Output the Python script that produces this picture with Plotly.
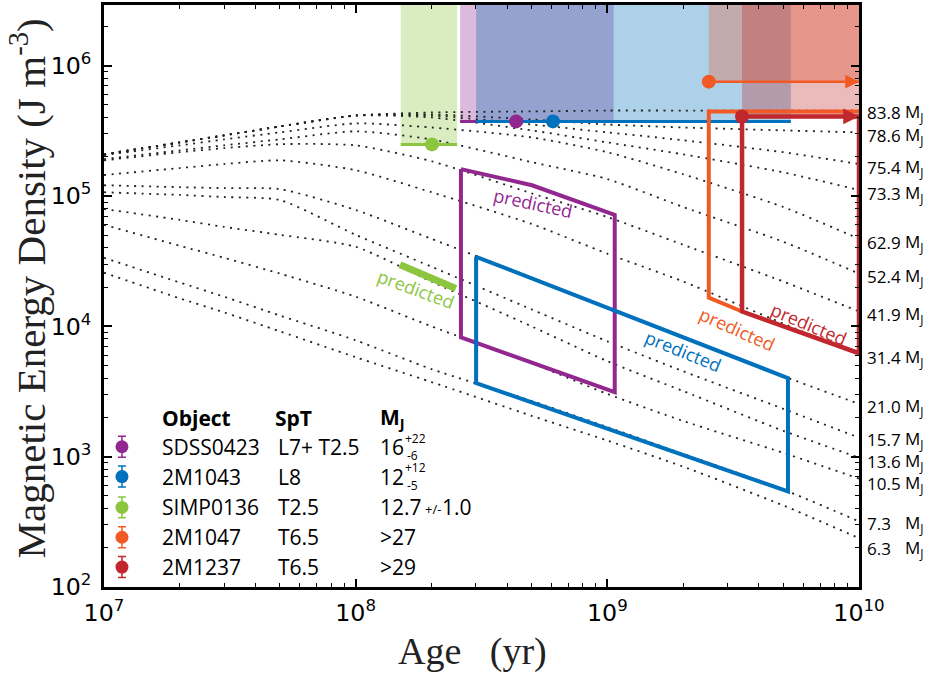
import numpy as np
import plotly.graph_objects as go

# ---------------- data ----------------
ages = [1e7, 2e7, 3e7, 5e7, 1e8, 2e8, 5e8, 1e9, 2e9, 5e9, 1e10]

track_masses = ["83.8", "78.6", "75.4", "73.3", "62.9", "52.4", "41.9",
                "31.4", "21.0", "15.7", "13.6", "10.5", "7.3", "6.3"]

e_83_8 = [2.09e5, 2.58e5, 2.92e5, 3.42e5, 4.15e5, 4.38e5, 4.46e5, 4.53e5, 4.53e5, 4.53e5, 4.53e5]
e_78_6 = [2.09e5, 2.58e5, 2.92e5, 3.42e5, 4.15e5, 4.23e5, 3.87e5, 3.54e5, 3.36e5, 3.19e5, 3.08e5]
e_75_4 = [2.09e5, 2.58e5, 2.92e5, 3.42e5, 4.15e5, 4.15e5, 3.54e5, 3.08e5, 2.68e5, 2.17e5, 1.76e5]
e_73_3 = [2.09e5, 2.58e5, 2.92e5, 3.42e5, 4.15e5, 4.01e5, 3.19e5, 2.58e5, 2.09e5, 1.52e5, 1.11e5]
e_62_9 = [2.06e5, 2.45e5, 2.72e5, 3.08e5, 3.61e5, 3.36e5, 2.82e5, 2.17e5, 1.47e5, 8.24e4, 4.70e4]
e_52_4 = [1.92e5, 2.24e5, 2.45e5, 2.72e5, 3.14e5, 2.72e5, 1.82e5, 1.35e5, 8.24e4, 4.46e4, 2.54e4]
e_41_9 = [1.88e5, 2.17e5, 2.33e5, 2.50e5, 2.45e5, 1.85e5, 1.05e5, 6.91e4, 4.23e4, 2.21e4, 1.30e4]
e_31_4 = [1.45e5, 1.64e5, 1.76e5, 1.88e5, 1.58e5, 1.07e5, 6.11e4, 3.61e4, 2.21e4, 1.05e4, 6.11e3]
e_21_0 = [1.21e5, 1.17e5, 1.15e5, 1.13e5, 7.82e4, 4.70e4, 2.37e4, 1.40e4, 8.24e3, 4.15e3, 2.54e3]
e_15_7 = [1.07e5, 1.02e5, 9.83e4, 9.32e4, 5.04e4, 2.87e4, 1.35e4, 7.68e3, 4.53e3, 2.33e3, 1.40e3]
e_13_6 = [7.96e4, 6.56e4, 5.80e4, 5.04e4, 4.08e4, 2.21e4, 1.00e4, 5.41e3, 3.19e3, 1.58e3, 9.83e2]
e_10_5 = [6.01e4, 4.15e4, 3.36e4, 2.54e4, 1.69e4, 1.00e4, 5.22e3, 3.03e3, 1.88e3, 1.07e3, 6.79e2]
e_7_3 = [3.36e4, 2.17e4, 1.69e4, 1.21e4, 7.82e3, 4.70e3, 2.68e3, 1.69e3, 1.05e3, 5.60e2, 3.19e2]
e_6_3 = [2.58e4, 1.64e4, 1.28e4, 9.16e3, 5.80e3, 3.74e3, 2.06e3, 1.33e3, 8.39e2, 4.23e2, 2.37e2]

tracks = [e_83_8, e_78_6, e_75_4, e_73_3, e_62_9, e_52_4, e_41_9,
          e_31_4, e_21_0, e_15_7, e_13_6, e_10_5, e_7_3, e_6_3]

obj_names = ["SDSS0423", "2M1043", "SIMP0136", "2M1047", "2M1237"]
obj_spt = ["L7+ T2.5", "L8", "T2.5", "T6.5", "T6.5"]
obj_mass = ["16", "12", "12.7", ">27", ">29"]
obj_colors = ["#92278f", "#0071bc", "#8cc63f", "#f15a24", "#c1272d"]
obj_age = [4.34e8, 6.08e8, 2.01e8, 2.53e9, 3.43e9]
obj_emag = [3.74e5, 3.74e5, 2.49e5, 7.55e5, 4.08e5]
obj_age_lo = [2.60e8, 3.01e8, 1.51e8, 2.53e9, 3.43e9]
obj_age_hi = [1.06e9, 5.36e9, 2.53e8, 1e10, 1e10]
band_top = 1e7

# predicted regions
sdss_pred_age = [2.62e8, 5.02e8, 1.07e9, 1.07e9, 2.62e8, 2.62e8]
sdss_pred_e = [1.61e5, 1.21e5, 7.16e4, 3.13e3, 8.24e3, 1.61e5]
m1043_pred_age = [3.01e8, 5.22e9, 5.22e9, 3.01e8, 3.01e8]
m1043_pred_e = [3.42e4, 4.01e3, 5.41e2, 3.67e3, 3.42e4]
simp_pred_age = [1.50e8, 2.50e8]
simp_pred_e = [2.97e4, 1.95e4]
m1047_pred_age = [1e10, 2.53e9, 2.53e9, 3.43e9]
m1047_pred_e = [4.46e5, 4.46e5, 1.66e4, 1.30e4]
m1237_pred_age = [3.43e9, 3.43e9, 1e10, 1e10]
m1237_pred_e = [4.08e5, 1.30e4, 6.22e3, 4.08e5]

# label anchor points for "predicted" texts (age, energy, angle)
pred_label_age = [1.74e8, 5.06e8, 2.0e9, 3.27e9, 6.32e9]
pred_label_e = [1.95e4, 8.85e4, 6.44e3, 9.48e3, 1.05e4]
pred_label_angle = [20, 12, 22, 24, 23]
pred_label_color = ["#8cc63f", "#92278f", "#0071bc", "#f15a24", "#c1272d"]

# vertical pixel nudges of the right-hand mass labels
label_nudge = [-2, -3, -3, -3, -4, -3, -3, -3, -3, -2, -4, -5, -2, -10]

SANS = "Open Sans, Noto Sans, sans-serif"
TICKF = "DejaVu Sans, sans-serif"
SERIF = "Liberation Serif, serif"

fig = go.Figure()

def rgba(hexc, a):
    h = hexc.lstrip("#")
    return "rgba(%d,%d,%d,%.2f)" % (int(h[0:2], 16), int(h[2:4], 16), int(h[4:6], 16), a)

# shaded bands (order: green, purple, blue, orange, red)
for i in [2, 0, 1, 3, 4]:
    x0, x1, y0 = obj_age_lo[i], obj_age_hi[i], obj_emag[i]
    fig.add_trace(go.Scatter(x=[x0, x1, x1, x0, x0], y=[y0, y0, band_top, band_top, y0],
                             mode="lines", fill="toself", fillcolor=rgba(obj_colors[i], 0.32),
                             line=dict(width=0), hoverinfo="skip"))

# evolutionary tracks
for e in tracks:
    fig.add_trace(go.Scatter(x=ages, y=e, mode="lines",
                             line=dict(color="#222222", width=1.8, dash="2px,5.5px",
                                       shape="spline", smoothing=0.6),
                             hoverinfo="skip"))

# band bottom lines
for i in [2, 0, 1]:
    fig.add_trace(go.Scatter(x=[obj_age_lo[i], obj_age_hi[i]], y=[obj_emag[i], obj_emag[i]],
                             mode="lines", line=dict(color=obj_colors[i], width=3)))

# predicted regions
fig.add_trace(go.Scatter(x=sdss_pred_age, y=sdss_pred_e, mode="lines",
                         line=dict(color=obj_colors[0], width=4)))
fig.add_trace(go.Scatter(x=m1043_pred_age, y=m1043_pred_e, mode="lines",
                         line=dict(color=obj_colors[1], width=4)))
fig.add_trace(go.Scatter(x=simp_pred_age, y=simp_pred_e, mode="lines",
                         line=dict(color=obj_colors[2], width=7)))
fig.add_trace(go.Scatter(x=m1047_pred_age, y=m1047_pred_e, mode="lines",
                         line=dict(color=obj_colors[3], width=4)))
fig.add_trace(go.Scatter(x=m1237_pred_age, y=m1237_pred_e, mode="lines",
                         line=dict(color=obj_colors[4], width=4.5)))

# lower-limit arrows
for i, w in [(3, 2.5), (4, 4.5)]:
    fig.add_trace(go.Scatter(x=[obj_age[i], obj_age_hi[i]], y=[obj_emag[i], obj_emag[i]],
                             mode="lines", line=dict(color=obj_colors[i], width=w)))

# measured points
fig.add_trace(go.Scatter(x=obj_age, y=obj_emag, mode="markers",
                         marker=dict(color=obj_colors, size=14, line=dict(width=0)),
                         cliponaxis=False))

annotations = []
for i, w, s in [(3, 2.5, 1.1), (4, 4.5, 0.7)]:
    annotations.append(dict(x=np.log10(obj_age_hi[i]), y=np.log10(obj_emag[i]),
                            ax=np.log10(obj_age_hi[i]) - 0.06, ay=np.log10(obj_emag[i]),
                            xref="x", yref="y", axref="x", ayref="y", text="",
                            showarrow=True, arrowhead=2, arrowsize=s,
                            arrowwidth=w, arrowcolor=obj_colors[i], standoff=0))

# predicted labels
for a, e, ang, c in zip(pred_label_age, pred_label_e, pred_label_angle, pred_label_color):
    annotations.append(dict(x=np.log10(a), y=np.log10(e), xref="x", yref="y",
                            text="predicted", showarrow=False, textangle=ang,
                            font=dict(family=SANS, size=18, color=c)))

# mass labels on the right
for m, e, nd in zip(track_masses, tracks, label_nudge):
    yv = np.log10(e[-1])
    annotations.append(dict(x=1, y=yv, xref="paper", yref="y", xanchor="left",
                            xshift=6, yshift=nd, text=m, showarrow=False,
                            font=dict(family=SANS, size=17, color="black")))
    annotations.append(dict(x=1, y=yv, xref="paper", yref="y", xanchor="left",
                            xshift=44, yshift=nd, text="M<sub>J</sub>", showarrow=False,
                            font=dict(family=SANS, size=17, color="black")))

# table / legend (paper coordinates)
row_y = [0.2410, 0.1897, 0.1368, 0.0855, 0.0342]
head_y = 0.2906
col_name, col_spt, col_mass, col_mark = 0.0742, 0.2238, 0.3630, 0.0238
tf = dict(family=SANS, size=21, color="black")
for txt, xx in [("<b>Object</b>", col_name), ("<b>SpT</b>", col_spt), ("<b>M<sub>J</sub></b>", col_mass)]:
    annotations.append(dict(x=xx, y=head_y, xref="paper", yref="paper", xanchor="left",
                            yanchor="middle", text=txt, showarrow=False, font=tf))
for k in range(5):
    annotations.append(dict(x=col_name, y=row_y[k], xref="paper", yref="paper", xanchor="left",
                            yanchor="middle", text=obj_names[k], showarrow=False, font=tf))
    annotations.append(dict(x=col_spt + 0.004, y=row_y[k], xref="paper", yref="paper", xanchor="left",
                            yanchor="middle", text=obj_spt[k], showarrow=False, font=tf))
    annotations.append(dict(x=col_mass, y=row_y[k], xref="paper", yref="paper", xanchor="left",
                            yanchor="middle", text=obj_mass[k], showarrow=False, font=tf))
small = dict(family=SANS, size=12, color="black")
for txt, xx, yy in [("+22", 0.3965, row_y[0] + 0.0150), ("-6", 0.3990, row_y[0] - 0.0150),
                    ("+12", 0.3965, row_y[1] + 0.0150), ("-5", 0.3990, row_y[1] - 0.0150)]:
    annotations.append(dict(x=xx, y=yy, xref="paper", yref="paper", xanchor="left",
                            yanchor="middle", text=txt, showarrow=False, font=small))
annotations.append(dict(x=0.4225, y=row_y[2] - 0.003, xref="paper", yref="paper", xanchor="left",
                        yanchor="middle", text="+/-", showarrow=False,
                        font=dict(family=SANS, size=13, color="black")))
annotations.append(dict(x=0.4450, y=row_y[2], xref="paper", yref="paper", xanchor="left",
                        yanchor="middle", text="1.0", showarrow=False, font=tf))

# axis titles
annotations.append(dict(x=-0.1007, y=0.513, xref="paper", yref="paper", xanchor="center",
                        yanchor="middle", textangle=-90, showarrow=False,
                        text="Magnetic Energy Density (J m<sup>-3</sup>)",
                        font=dict(family=SERIF, size=41, color="#222222")))
annotations.append(dict(x=0.4887, y=-0.111, xref="paper", yref="paper", xanchor="center",
                        yanchor="middle", showarrow=False,
                        text="Age\u00a0\u00a0\u00a0(yr)",
                        font=dict(family=SERIF, size=38, color="#222222")))

# legend markers with error bars on an overlay axis
for k in range(5):
    fig.add_trace(go.Scatter(x=[col_mark], y=[row_y[k]], xaxis="x2", yaxis="y2", mode="markers",
                             marker=dict(color=obj_colors[k], size=13),
                             error_y=dict(type="constant", value=0.018, thickness=1.5, width=4,
                                          color=obj_colors[k]),
                             hoverinfo="skip"))

axis_common = dict(type="log", showline=True, linecolor="black", linewidth=2.5,
                   mirror="allticks", ticks="inside", ticklen=8, tickwidth=1.5, tickcolor="black",
                   showgrid=False, zeroline=False, dtick=1, exponentformat="power",
                   tickfont=dict(family=TICKF, size=19, color="black"),
                   minor=dict(ticks="inside", ticklen=4, tickwidth=1, tickcolor="black",
                              dtick="D1", showgrid=False))

fig.update_layout(
    width=934, height=673,
    margin=dict(l=104, r=75, t=2, b=86),
    paper_bgcolor="white", plot_bgcolor="white",
    showlegend=False,
    xaxis=dict(range=[7, 10], ticklabelstandoff=4, **axis_common),
    yaxis=dict(range=[2, 6.466], ticklabelstandoff=6, **axis_common),
    xaxis2=dict(overlaying="x", range=[0, 1], visible=False, anchor="y"),
    yaxis2=dict(overlaying="y", range=[0, 1], visible=False, anchor="x"),
    annotations=annotations,
)

fig.write_html("out.html", config={"displayModeBar": False},
               post_script="document.body.style.margin='0px';document.body.style.overflow='hidden';")
